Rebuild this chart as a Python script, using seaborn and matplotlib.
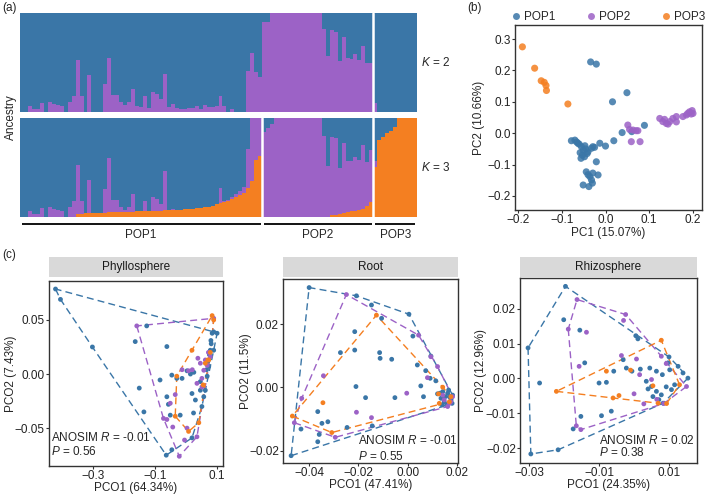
import numpy as np
import pandas as pd
import seaborn as sns
import matplotlib.pyplot as plt
from matplotlib.lines import Line2D

sns.set_theme(style="white")
plt.rcParams['font.family'] = ['Liberation Sans', 'DejaVu Sans']
plt.rcParams['mathtext.fontset'] = 'custom'
plt.rcParams['mathtext.rm'] = 'Liberation Sans'
plt.rcParams['mathtext.it'] = 'Liberation Sans:italic'

BLUE, PURPLE, ORANGE = '#3a76a7', '#9c62c6', '#f47f21'
pops = ['POP1', 'POP2', 'POP3']
pal = dict(zip(pops, [BLUE, PURPLE, ORANGE]))
FS = 8.5

# ---- (a) ancestry proportions, one bar per individual ----
k2_purple_pop1 = [0, 0, 0.065, 0.03, 0.035, 0.095, 0, 0.10, 0.08, 0.07,
                  0.065, 0, 0.105, 0.16, 0.53, 0.16, 0, 0.37, 0, 0,
                  0, 0.28, 0.55, 0.17, 0.17, 0.105, 0.07, 0.10, 0.23, 0.06,
                  0.05, 0.165, 0.045, 0.20, 0.18, 0.135, 0.385, 0.055, 0.08, 0.04,
                  0.035, 0.035, 0.04, 0.04, 0.06, 0.035, 0.07, 0.055, 0.05, 0.06,
                  0.16, 0.06, 0, 0.03, 0, 0, 0, 0.41, 0.60, 0.40, 0.35]
k2_purple_pop2 = [0.905, 0.905, 1, 1, 1, 1, 1, 1, 1, 1, 1, 1, 1, 1, 1,
                  0.84, 0.57, 0.83, 0.81, 0.52, 0.76, 0.55, 0.54, 0.59, 0.53, 0.67, 0.50, 0.50]
k2_purple_pop3 = [0.09, 0, 0, 0, 0, 0, 0, 0, 0, 0, 0]

k3_orange_pop1 = [0, 0, 0, 0, 0, 0, 0, 0, 0, 0, 0, 0, 0, 0,
                  0.035, 0.035, 0.04, 0.04, 0.04, 0.045, 0.045,
                  0.045, 0.05, 0.05, 0.05, 0.05, 0.055, 0.055, 0.055, 0.06, 0.06,
                  0.06, 0.06, 0.065, 0.065, 0.065, 0.07, 0.07, 0.07, 0.075, 0.075,
                  0.08, 0.08, 0.085, 0.09, 0.09, 0.10, 0.10, 0.11, 0.13, 0.14,
                  0.15, 0.16, 0.18, 0.20, 0.22, 0.24, 0.29, 0.36, 0.58, 0.62]
k3_purple_pop1 = [0, 0, 0.065, 0.03, 0.035, 0.095, 0, 0.10, 0.08, 0.07,
                  0.065, 0, 0.105, 0.16, 0.495, 0.125, 0, 0.33, 0, 0,
                  0, 0.235, 0.55, 0.12, 0.12, 0.055, 0.015, 0.045, 0.175, 0,
                  0, 0.105, 0, 0.135, 0.115, 0.07, 0.39, 0, 0.01, 0,
                  0, 0, 0, 0, 0, 0, 0, 0, 0, 0,
                  0.15, 0.01, 0.01, 0.02, 0.03, 0.04, 0.06, 0.40, 0.64, 0.42, 0.38]
k3_orange_pop2 = [0] * 17 + [0.02, 0.02, 0.03, 0.04, 0.05, 0.06, 0.065, 0.07, 0.08, 0.11, 0.15]
k3_purple_pop2 = [0.86, 0.90, 0.94, 1, 1, 1, 1, 1, 1, 1, 1, 1, 1, 1, 1,
                  0.82, 0.52, 0.79, 0.78, 0.46, 0.71, 0.52, 0.51, 0.545, 0.51, 0.65, 0.45, 0.53]
k3_orange_pop3 = [0.51, 0.78, 0.81, 0.85, 0.87, 0.91, 1, 1, 1, 1, 1]
k3_purple_pop3 = [0.06, 0, 0, 0, 0, 0, 0, 0, 0, 0, 0]

# ---- (b) PCA ----
pca_pop1_x = [-0.034, -0.021, 0.016, 0.049, 0.089, 0.038, 0.060, 0.019, 0.000, -0.013,
              -0.029, -0.078, -0.070, -0.063, -0.055, -0.051, -0.053, -0.048, -0.040, -0.032,
              -0.021, -0.017, -0.044, -0.051, -0.038, -0.032, -0.036, -0.029, -0.030, -0.040,
              -0.060, -0.045, -0.058, -0.066, -0.042, -0.025, -0.047, -0.056]
pca_pop1_y = [0.227, 0.220, 0.100, 0.129, 0.025, 0.002, 0.005, -0.024, -0.041, -0.032,
              -0.043, -0.024, -0.022, -0.032, -0.043, -0.054, -0.070, -0.075, -0.059, -0.048,
              -0.091, -0.133, -0.123, -0.165, -0.170, -0.149, -0.138, -0.127, -0.159, -0.132,
              -0.035, -0.050, -0.062, -0.028, -0.065, -0.045, -0.040, -0.080]
pca_pop2_x = [0.051, 0.055, 0.063, 0.070, 0.074, 0.059, 0.079, 0.124, 0.131, 0.139, 0.147, 0.162,
              0.154, 0.177, 0.185, 0.192, 0.198, 0.196, 0.162, 0.135, 0.200, 0.188, 0.143]
pca_pop2_y = [0.026, 0.012, 0.010, 0.008, 0.008, -0.027, -0.027, 0.047, 0.037, 0.031, 0.037, 0.053,
              0.047, 0.053, 0.058, 0.068, 0.072, 0.061, 0.036, 0.044, 0.063, 0.063, 0.029]
pca_pop3_x = [-0.190, -0.162, -0.147, -0.140, -0.136, -0.135, -0.086]
pca_pop3_y = [0.275, 0.207, 0.167, 0.162, 0.152, 0.136, 0.093]

# ---- (c) PCoA of microbiome, three compartments ----
phy_pop1_x = [-0.421, -0.405, -0.302, -0.164, -0.127, -0.062, -0.151, -0.136, -0.084, -0.046,
              -0.030, -0.013, -0.062, -0.057, -0.051, -0.019, -0.064, -0.046, 0.014, 0.025,
              0.003, 0.019, 0.024, 0.030, 0.046, 0.046, 0.051, 0.057, 0.062, 0.068,
              0.073, 0.078, 0.081, 0.089, 0.084, 0.100, 0.089, 0.019, 0.075, 0.070, 0.080, 0.066]
phy_pop1_y = [0.0786, 0.069, 0.025, 0.030, 0.0445, 0.0254, -0.013, -0.035, -0.0055, -0.001,
              -0.004, -0.004, -0.021, -0.028, -0.038, -0.038, -0.075, -0.070, 0.0, 0.0016,
              0.003, -0.018, -0.036, -0.024, -0.015, -0.007, -0.030, -0.021, -0.015, -0.002,
              0.007, 0.022, 0.028, 0.022, 0.0377, 0.0377, 0.039, -0.059, 0.018, 0.012, 0.031, 0.004]
phy_pop2_x = [-0.159, 0.089, 0.038, 0.046, 0.062, 0.068, 0.008, -0.013, 0.035, 0.051, -0.035, -0.051,
              -0.073, -0.062, -0.043, -0.022, -0.005, 0.035, 0.003, 0.051, 0.057, 0.078, 0.020, 0.072]
phy_pop2_y = [0.0445, 0.0515, 0.0146, 0.010, 0.013, 0.008, 0.003, 0.004, -0.0086, -0.012, -0.019, -0.027,
              -0.041, -0.042, -0.049, -0.076, -0.061, -0.058, -0.050, -0.004, 0.0035, 0.016, 0.004, 0.020]
phy_pop3_x = [0.084, 0.089, 0.070, -0.030, -0.035, 0.008, 0.041, 0.062, 0.073, 0.019, 0.055, 0.078]
phy_pop3_y = [0.054, 0.050, 0.013, -0.002, -0.039, -0.053, -0.045, 0.010, 0.013, 0.022, -0.010, 0.020]

root_pop1_x = [-0.0400, -0.0473, -0.0208, -0.0147, 0.0005, 0.0021, -0.0106, -0.0273, -0.0215, -0.0114,
               -0.0112, -0.0065, -0.0215, -0.0210, -0.0171, -0.0052, 0.0053, 0.0073, 0.0091, 0.0114,
               0.0064, -0.0365, -0.0348, -0.0324, -0.0433, -0.0365, -0.0359, -0.0246, -0.0144, 0.0039,
               0.0094, 0.0131, 0.0142, 0.0152, 0.0162, 0.0169, 0.0176, 0.0182, 0.0148, 0.0135,
               0.0158, 0.0180, 0.0121, 0.0166, 0.0139]
root_pop1_y = [0.0315, -0.0215, 0.0289, 0.0260, 0.0231, 0.0162, 0.0218, 0.0110, 0.0118, 0.0110,
               0.0092, 0.0089, 0.0176, 0.0003, -0.0032, -0.0032, 0.0005, 0.0053, 0.0029, 0.0021,
               -0.0029, -0.0076, -0.0113, -0.0108, -0.0131, -0.0171, -0.0148, -0.0126, -0.0121, 0.0071,
               0.0099, -0.0018, -0.0013, -0.0029, -0.0018, -0.0029, -0.0039, -0.0024, -0.0045, -0.0034,
               -0.0055, -0.0050, -0.0020, -0.0008, -0.0055]
root_pop2_x = [-0.0249, 0.0044, 0.0094, 0.0121, 0.0080, -0.0004, -0.0342, -0.0430, -0.0460,
               -0.0294, -0.0208, -0.0147, 0.0148, 0.0169, 0.0182, 0.0142, 0.0162, 0.0175]
root_pop2_y = [0.0293, 0.0165, 0.0097, 0.0066, 0.0031, -0.0018, 0.0037, -0.0034, -0.0111,
               -0.0157, -0.0078, -0.0095, -0.0039, -0.0050, -0.0029, -0.0024, -0.0060, -0.0045]
root_pop3_x = [-0.0127, -0.0344, -0.0468, -0.0308, 0.0128, 0.0169, 0.0142, 0.0175, 0.0125]
root_pop3_y = [0.0228, -0.0048, -0.0090, -0.0142, -0.0050, -0.0045, 0.0001, -0.0029, -0.0020]

rhi_pop1_x = [-0.0196, -0.0303, -0.0270, -0.0295, -0.0217, -0.0201, -0.0155, -0.0141, -0.0174, -0.0152,
              -0.0093, -0.0065, -0.0100, -0.0079, 0.0005, 0.0011, -0.0031, -0.0022, -0.0006, 0.0018,
              0.0045, 0.0064, 0.0081, 0.0102, 0.0126, 0.0154, 0.0140, 0.0100, 0.0097, 0.0035,
              0.0050, 0.0064, 0.0078, 0.0092, 0.0107, 0.0116, 0.0054, 0.0071, 0.0083, 0.0040, -0.0058]
rhi_pop1_y = [0.0265, 0.0088, -0.0013, -0.0217, -0.0205, 0.0169, 0.0139, 0.0045, -0.0145, -0.0109,
              -0.0107, -0.0094, -0.0013, -0.0011, 0.0123, 0.0114, 0.0054, 0.0030, 0.0021, 0.0027,
              0.0030, 0.0021, 0.0011, 0.0025, 0.0035, 0.0001, 0.0016, 0.0062, 0.0045, -0.0008,
              -0.0023, -0.0037, -0.0047, -0.0024, -0.0032, -0.0018, -0.0052, -0.0061, -0.0071, -0.0030, 0.0021]
rhi_pop2_x = [-0.0163, -0.0024, -0.0030, -0.0188, -0.0136, -0.0157, -0.0152, -0.0165, -0.0036, 0.0007,
              0.0078, 0.0092, 0.0150, 0.0050, 0.0000, 0.0028, 0.0085, 0.0016, 0.0065]
rhi_pop2_y = [0.0227, 0.0184, 0.0167, 0.0142, 0.0133, 0.0035, -0.0147, -0.0136, 0.0066, 0.0056,
              0.0064, 0.0043, -0.0023, -0.0003, -0.0044, -0.0073, -0.0072, 0.0011, -0.0060]
rhi_pop3_x = [-0.0222, 0.0078, -0.0079, -0.0010, -0.0043, -0.0060, 0.0130, 0.0069, 0.0054, 0.0093]
rhi_pop3_y = [-0.0037, 0.0110, 0.0021, 0.0024, -0.0049, -0.0056, -0.0018, -0.0071, -0.0021, -0.0072]

compartments = ['Phyllosphere', 'Root', 'Rhizosphere']
x_titles = ['PCO1 (64.34%)', 'PCO1 (47.41%)', 'PCO1 (24.35%)']
y_titles = ['PCO2 (7.43%)', 'PCO2 (11.5%)', 'PCO2 (12.96%)']
anosim_r = ['-0.01', '-0.01', '0.02']
anosim_p = ['0.56', '0.55', '0.38']
c_xticks = [[-0.3, -0.1, 0.1], [-0.04, -0.02, 0.0, 0.02], [-0.03, -0.01, 0.01]]
c_xlabels = [['−0.3', '−0.1', '0.1'], ['−0.04', '−0.02', '0.00', '0.02'], ['−0.03', '−0.01', '0.01']]
c_yticks = [[-0.05, 0.0, 0.05], [-0.02, 0.0, 0.02], [-0.02, -0.01, 0.0, 0.01, 0.02]]
c_ylabels = [['−0.05', '0.00', '0.05'], ['−0.02', '0.00', '0.02'], ['−0.02', '−0.01', '0.00', '0.01', '0.02']]

W, H = 709, 494
fig = plt.figure(figsize=(W / 100, H / 100), dpi=100)


def box(l, t, r, b):
    return fig.add_axes([l / W, 1 - b / H, (r - l) / W, (b - t) / H])


def frame(ax):
    for s in ax.spines.values():
        s.set_visible(True)
        s.set_color('#333333')
        s.set_linewidth(1.0)
    ax.tick_params(bottom=True, left=True, direction='out', length=2.2, width=0.8,
                   color='#333333', labelsize=FS, labelcolor='#222222', pad=0.8)


def hull(xs, ys):
    pts = sorted(set(zip(xs, ys)))

    def cross(o, a, b):
        return (a[0] - o[0]) * (b[1] - o[1]) - (a[1] - o[1]) * (b[0] - o[0])
    lower, upper = [], []
    for p in pts:
        while len(lower) >= 2 and cross(lower[-2], lower[-1], p) <= 0:
            lower.pop()
        lower.append(p)
    for p in reversed(pts):
        while len(upper) >= 2 and cross(upper[-2], upper[-1], p) <= 0:
            upper.pop()
        upper.append(p)
    h = lower[:-1] + upper[:-1]
    h.append(h[0])
    return np.array(h)


# ---------- panel (a) ----------
n1, n2, n3 = len(k2_purple_pop1), len(k2_purple_pop2), len(k2_purple_pop3)
N = n1 + n2 + n3
idx = np.arange(N)
k2p = np.array(k2_purple_pop1 + k2_purple_pop2 + k2_purple_pop3)
k3o = np.array(k3_orange_pop1 + k3_orange_pop2 + k3_orange_pop3)
k3p = np.array(k3_purple_pop1 + k3_purple_pop2 + k3_purple_pop3)

rows = [box(20, 13, 417, 112), box(20, 118, 417, 217)]
stacks = [(np.zeros(N), k2p), (k3o, k3p)]
for ax, (orange, purple) in zip(rows, stacks):
    kw = dict(width=1.0, linewidth=0, antialiased=False)
    ax.set_facecolor(BLUE)
    ax.bar(idx, orange, color=ORANGE, **kw)
    ax.bar(idx, purple, bottom=orange, color=PURPLE, **kw)
    ax.bar(idx, 1 - orange - purple, bottom=orange + purple, color=BLUE, **kw)
    ax.set_xlim(-0.5, N - 0.5)
    ax.set_ylim(0, 1)
    ax.set_xticks([])
    ax.set_yticks([])
    for s in ax.spines.values():
        s.set_visible(False)
    ax.axvline(n1 + n2 - 0.5, color='white', lw=1.8)
rows[1].axvline(n1 - 0.5, color='white', lw=1.8)

fig.text(421 / W, 1 - 62 / H, '$K$ = 2', va='center', ha='left', fontsize=FS)
fig.text(421 / W, 1 - 167 / H, '$K$ = 3', va='center', ha='left', fontsize=FS)
fig.text(11 / W, 1 - 117 / H, 'Ancestry', rotation=90, ha='center', va='center', fontsize=FS)

ax_pop = box(20, 219, 417, 242)
ax_pop.set_xlim(-0.5, N - 0.5)
ax_pop.set_ylim(0, 1)
ax_pop.axis('off')
bounds = [(-0.5, n1 - 0.5), (n1 - 0.5, n1 + n2 - 0.5), (n1 + n2 - 0.5, N - 0.5)]
for name, (a0, a1) in zip(pops, bounds):
    ax_pop.plot([max(a0 + 0.4, -0.5), min(a1 - 0.4, N - 0.5)], [0.78, 0.78], color='black', lw=1.3,
                solid_capstyle='butt')
    ax_pop.text((a0 + a1) / 2, 0.3, name, ha='center', va='center', fontsize=FS)

fig.text(2 / W, 1 - 8 / H, '(a)', ha='left', va='center', fontsize=FS)

# ---------- panel (b) ----------
axb = box(515, 25, 702, 210)
pca = pd.concat([
    pd.DataFrame({'x': pca_pop1_x, 'y': pca_pop1_y, 'pop': 'POP1'}),
    pd.DataFrame({'x': pca_pop2_x, 'y': pca_pop2_y, 'pop': 'POP2'}),
    pd.DataFrame({'x': pca_pop3_x, 'y': pca_pop3_y, 'pop': 'POP3'}),
])
sns.scatterplot(data=pca, x='x', y='y', hue='pop', palette=pal, s=26, alpha=0.85,
                linewidth=0, legend=False, ax=axb)
axb.set_xlim(-0.2069, 0.2206)
axb.set_ylim(-0.2446, 0.3446)
axb.set_xticks([-0.2, -0.1, 0.0, 0.1, 0.2], ['−0.2', '−0.1', '0.0', '0.1', '0.2'])
axb.set_yticks([-0.2, -0.1, 0.0, 0.1, 0.2, 0.3], ['−0.2', '−0.1', '0.0', '0.1', '0.2', '0.3'])
frame(axb)
axb.set_xlabel('PC1 (15.07%)', fontsize=FS)
axb.set_ylabel('PC2 (10.66%)', fontsize=FS)
axb.xaxis.set_label_coords(0.5, -0.09)
axb.yaxis.set_label_coords(-0.16, 0.5)
handles = [Line2D([], [], marker='o', ls='', color=pal[p], alpha=0.85, markersize=5,
                  markeredgewidth=0) for p in pops]
axb.legend(handles, pops, loc='lower center', bbox_to_anchor=(0.5, 1.0), ncol=3, frameon=False,
           fontsize=FS, handlelength=0.8, handletextpad=0.3, columnspacing=2.6, borderaxespad=0.1,
           borderpad=0.1)
fig.text(467 / W, 1 - 8 / H, '(b)', ha='left', va='center', fontsize=FS)

# ---------- panel (c) ----------
c_data = [
    [(phy_pop1_x, phy_pop1_y), (phy_pop2_x, phy_pop2_y), (phy_pop3_x, phy_pop3_y)],
    [(root_pop1_x, root_pop1_y), (root_pop2_x, root_pop2_y), (root_pop3_x, root_pop3_y)],
    [(rhi_pop1_x, rhi_pop1_y), (rhi_pop2_x, rhi_pop2_y), (rhi_pop3_x, rhi_pop3_y)],
]
c_boxes = [(49, 281, 223, 466), (283, 279, 458, 463), (520, 278, 697, 463)]
c_lims = [((-0.442, 0.119), (-0.085, 0.086)),
          ((-0.0506, 0.0204), (-0.0238, 0.0342)),
          ((-0.0326, 0.018), (-0.0243, 0.0289))]
c_text = [(0.012, 0.152, 0.076), (0.43, 0.12, 0.035), (0.446, 0.12, 0.055)]
c_ylab = [-0.184, -0.177, -0.186]

for k in range(3):
    l, t, r, b = c_boxes[k]
    ax = box(l, t, r, b)
    strip = box(l, 257, r, 277)
    strip.set_facecolor('#d9d9d9')
    strip.set_xticks([])
    strip.set_yticks([])
    for s in strip.spines.values():
        s.set_visible(False)
    strip.text(0.5, 0.5, compartments[k], ha='center', va='center', fontsize=FS, color='#1a1a1a',
               transform=strip.transAxes)

    frames = []
    for p, (xs, ys) in zip(pops, c_data[k]):
        frames.append(pd.DataFrame({'x': xs, 'y': ys, 'pop': p}))
        hp = hull(xs, ys)
        ax.plot(hp[:, 0], hp[:, 1], color=pal[p], lw=1.0, ls=(0, (5, 3)), zorder=1)
    df = pd.concat(frames)
    sns.scatterplot(data=df, x='x', y='y', hue='pop', palette=pal, s=12, linewidth=0,
                    legend=False, ax=ax, zorder=2)
    ax.set_xlim(*c_lims[k][0])
    ax.set_ylim(*c_lims[k][1])
    ax.set_xticks(c_xticks[k], c_xlabels[k])
    ax.set_yticks(c_yticks[k], c_ylabels[k])
    frame(ax)
    ax.set_xlabel(x_titles[k], fontsize=FS)
    ax.set_ylabel(y_titles[k], fontsize=FS)
    ax.xaxis.set_label_coords(0.5, -0.085)
    ax.yaxis.set_label_coords(c_ylab[k], 0.5)
    tx, ty1, ty2 = c_text[k]
    ax.text(tx, ty1, 'ANOSIM $R$ = ' + anosim_r[k], transform=ax.transAxes, ha='left', va='center',
            fontsize=FS)
    ax.text(tx, ty2, '$P$ = ' + anosim_p[k], transform=ax.transAxes, ha='left', va='center',
            fontsize=FS)

fig.text(2 / W, 1 - 255 / H, '(c)', ha='left', va='center', fontsize=FS)

fig.savefig('out.png', dpi=100)
